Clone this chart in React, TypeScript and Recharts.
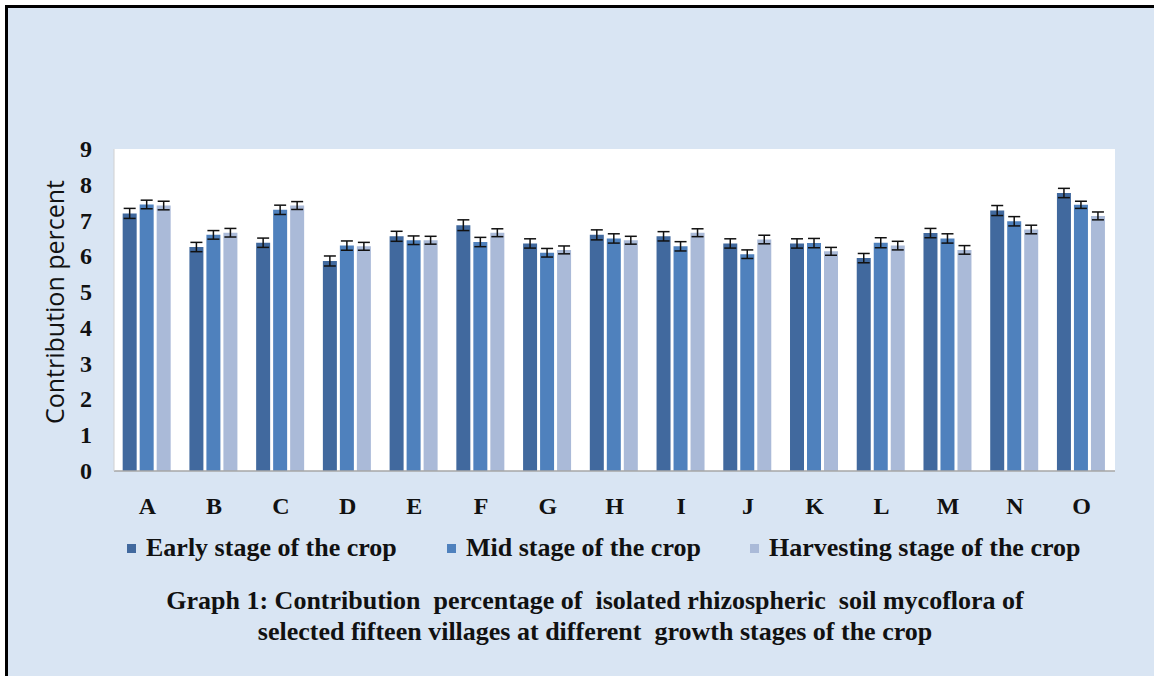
import React from "react";
import { BarChart, Bar, XAxis, YAxis, CartesianGrid, ErrorBar } from "recharts";

const villages = ["A", "B", "C", "D", "E", "F", "G", "H", "I", "J", "K", "L", "M", "N", "O"];
const early = [7.2, 6.26, 6.38, 5.87, 6.56, 6.87, 6.36, 6.6, 6.56, 6.36, 6.36, 5.95, 6.65, 7.28, 7.77];
const mid = [7.45, 6.6, 7.3, 6.3, 6.45, 6.4, 6.1, 6.5, 6.28, 6.06, 6.37, 6.38, 6.5, 6.98, 7.44];
const harvest = [7.42, 6.66, 7.42, 6.28, 6.45, 6.66, 6.18, 6.45, 6.66, 6.47, 6.14, 6.3, 6.18, 6.75, 7.13];
const earlyErr = [0.14, 0.13, 0.13, 0.14, 0.14, 0.15, 0.13, 0.14, 0.13, 0.13, 0.13, 0.13, 0.13, 0.14, 0.13];
const midErr = [0.12, 0.12, 0.13, 0.13, 0.12, 0.13, 0.12, 0.13, 0.13, 0.12, 0.13, 0.14, 0.13, 0.13, 0.1];
const harvestErr = [0.12, 0.12, 0.11, 0.11, 0.11, 0.11, 0.11, 0.11, 0.11, 0.12, 0.11, 0.12, 0.12, 0.12, 0.11];
const seriesNames = ["Early stage of the crop", "Mid stage of the crop", "Harvesting stage of the crop"];
const yTicks = [0, 1, 2, 3, 4, 5, 6, 7, 8, 9];
const yLabel = "Contribution percent";
const captionLines = [
  "Graph 1: Contribution  percentage of  isolated rhizospheric  soil mycoflora of",
  "selected fifteen villages at different  growth stages of the crop",
];

const colors = ["#41699E", "#4F81BD", "#AABAD8"];
const legendLefts = [127, 447, 750];

const data = villages.map((v, i) => ({
  name: v,
  early: early[i],
  mid: mid[i],
  harvest: harvest[i],
  earlyErr: earlyErr[i],
  midErr: midErr[i],
  harvestErr: harvestErr[i],
}));

const serif = "'Liberation Serif', 'Times New Roman', serif";

const XTick = (props: any) => {
  const { x, y, payload } = props;
  return (
    <text x={x} y={y + 35} textAnchor="middle" fontFamily={serif} fontWeight="bold" fontSize={24} fill="#111">
      {payload.value}
    </text>
  );
};

const YTick = (props: any) => {
  const { y, payload } = props;
  return (
    <text x={92} y={y + 8} textAnchor="end" fontFamily={serif} fontWeight="bold" fontSize={24} fill="#111">
      {payload.value}
    </text>
  );
};

export default function App() {
  return (
    <div style={{ position: "absolute", left: 0, top: 0, width: 1154, height: 676, background: "#fff", overflow: "hidden" }}>
      <style>{`body{margin:0}`}</style>
      <div
        style={{
          position: "absolute",
          left: 5,
          top: 5,
          width: 1154,
          height: 676,
          background: "#D9E5F3",
          borderLeft: "3px solid #000",
          borderTop: "3px solid #000",
        }}
      />
      <div style={{ position: "absolute", left: 0, top: 0 }}>
        <BarChart
          width={1154}
          height={676}
          data={data}
          margin={{ top: 149, right: 39, bottom: 175, left: 0 }}
          barCategoryGap="13%"
          barGap={3}
        >
          <CartesianGrid horizontal={false} vertical={false} fill="#ffffff" />
          <XAxis
            dataKey="name"
            height={30}
            tick={<XTick />}
            tickLine={false}
            axisLine={{ stroke: "#A6A6A6", strokeWidth: 1.5 }}
          />
          <YAxis
            width={114}
            domain={[0, 9]}
            ticks={yTicks}
            interval={0}
            tick={<YTick />}
            tickLine={false}
            axisLine={{ stroke: "#D0D0D0", strokeWidth: 1 }}
            label={(p: any) => (
              <text
                x={64}
                y={302}
                transform="rotate(-90, 64, 302)"
                textAnchor="middle"
                fontFamily="'Open Sans', sans-serif"
                fontSize={25}
                fill="#111"
              >
                {yLabel}
              </text>
            )}
          />
          <Bar dataKey="early" fill={colors[0]} isAnimationActive={false}>
            <ErrorBar dataKey="earlyErr" width={6} stroke="#111" strokeWidth={1.5} direction="y" />
          </Bar>
          <Bar dataKey="mid" fill={colors[1]} isAnimationActive={false}>
            <ErrorBar dataKey="midErr" width={6} stroke="#111" strokeWidth={1.5} direction="y" />
          </Bar>
          <Bar dataKey="harvest" fill={colors[2]} isAnimationActive={false}>
            <ErrorBar dataKey="harvestErr" width={6} stroke="#111" strokeWidth={1.5} direction="y" />
          </Bar>
        </BarChart>
      </div>
      {seriesNames.map((n, i) => (
        <div
          key={n}
          style={{
            position: "absolute",
            left: legendLefts[i],
            top: 533,
            height: 30,
            display: "flex",
            alignItems: "center",
            fontFamily: serif,
            fontWeight: "bold",
            fontSize: 26,
            color: "#111",
            whiteSpace: "nowrap",
          }}
        >
          <span style={{ display: "inline-block", width: 9, height: 9, background: colors[i], marginRight: 10 }} />
          {n}
        </div>
      ))}
      {captionLines.map((l, i) => (
        <div
          key={i}
          style={{
            position: "absolute",
            left: 0,
            width: 1190,
            top: 586 + i * 31,
            textAlign: "center",
            fontFamily: serif,
            fontWeight: "bold",
            fontSize: 26,
            lineHeight: "30px",
            color: "#111",
            whiteSpace: "pre",
          }}
        >
          {l}
        </div>
      ))}
    </div>
  );
}
